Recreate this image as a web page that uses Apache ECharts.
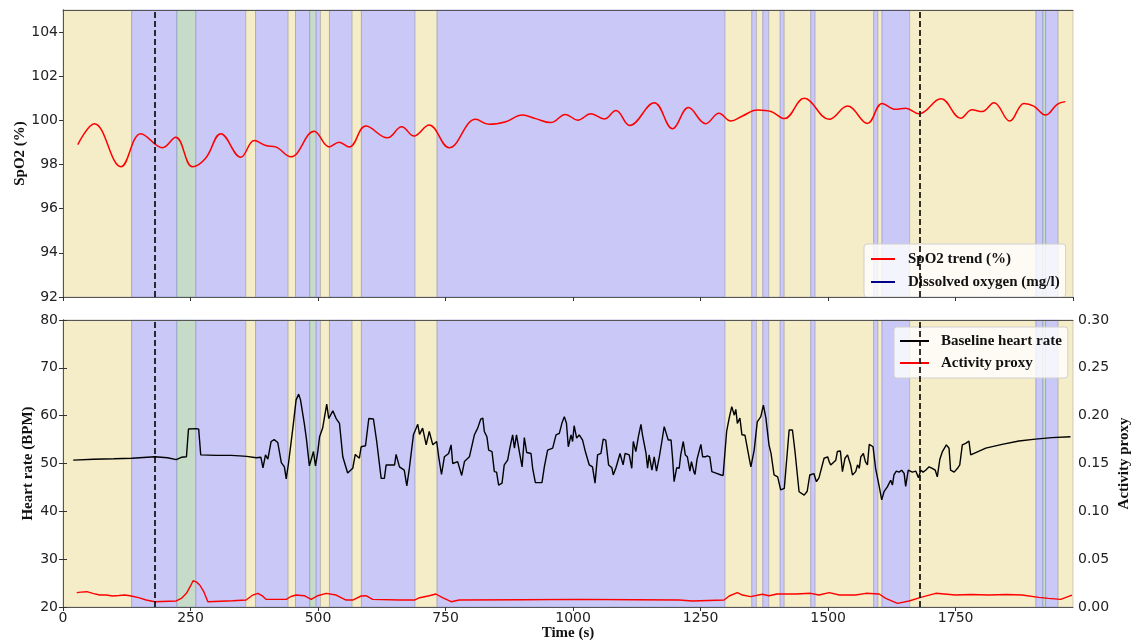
<!DOCTYPE html>
<html>
<head>
<meta charset="utf-8">
<script src="https://cdn.jsdelivr.net/npm/echarts@6/dist/echarts.min.js"></script>
<style>html,body{margin:0;padding:0;background:#fff;}#c{width:1131px;height:643px;}</style>
</head>
<body>
<div id="c"></div>
<script>
// ---------- data ----------
const spo2Time = [29,61.5,113.6,152.8,195,221,254,280,309.5,348.7,375,397.7,417,446.6,492.4,521.8,541.4,561,593.6,636,664,688,717.7,757,809,835,868,900.5,926.6,956,985,1009,1035,1061,1084,1111,1159,1195,1226,1260,1286,1309,1332,1361,1388,1414,1453,1502,1538,1577,1606,1632,1652,1678,1721,1760,1782,1802,1825,1856,1884,1903,1926,1949,1965];
const spo2Values = [98.9,99.85,97.9,99.4,98.76,99.24,97.9,98.3,99.4,98.33,99.09,98.86,98.8,98.35,99.51,98.8,99.01,98.79,99.74,99.21,99.71,99.29,99.79,98.76,100.05,99.82,99.94,100.24,100.08,99.9,100.27,100.01,100.3,100.06,100.45,99.77,100.8,99.62,100.58,99.85,100.32,99.97,100.2,100.47,100.4,100.08,101.0,100.05,100.65,99.86,100.77,100.5,100.55,100.3,100.98,100.1,100.48,100.4,100.8,99.97,100.77,100.65,100.24,100.73,100.85];

const hrTime = [20,60,100,135,180,205,222,232,242,246,262,266,270,300,330,346,360,379,388,392,397,401.6,408,414,421,428,434,437.6,442,450.6,457,462,465.6,473,477,483,491,495,499.5,503,509,517,521,529,535.5,542,548.5,558,568,573,581,584.5,593,599.5,608.6,615,623.7,630,633.5,650,653,659.6,669,674,679,687,695.5,699,705,712,718,725,732.6,736.5,742,747.7,756,760.8,764,773.7,781.6,787,796.7,806.5,813,819,823,826,831,834.5,841,845.6,850,854,860.7,865,871.7,876,881.5,885,889,894.6,900,904.4,909,917.5,920.7,926,939,943.6,950,960,966.5,973,978,982.8,987,990.6,996,999,1002,1007,1012,1018.6,1024,1031.7,1038,1043,1048,1054.6,1059,1064,1069.6,1076,1078.7,1084,1087,1092,1098,1102,1110,1115,1118,1123,1128,1133,1136,1143,1146,1149,1154.5,1159,1163.5,1169,1174,1178.6,1181,1186.5,1192,1195,1198,1203,1208,1211,1216,1220,1224,1229,1232,1237,1239,1243,1250.5,1254,1259,1263,1268,1272,1280,1290,1294,1297,1301,1306,1311,1316,1319,1322,1327,1331,1337,1344,1348.5,1355,1361,1368,1373,1378,1384,1388,1394,1401,1407,1414,1417,1423.5,1430,1435,1443,1453,1459,1464,1472,1477,1482,1492,1499,1502,1505,1508,1515,1518,1524,1528,1533,1538,1544,1547.6,1554,1557.6,1561,1564,1569,1573,1577,1580.6,1588,1593,1599.6,1605,1609.5,1616,1622.6,1626,1629,1633.7,1639,1644,1649,1652,1657,1665,1672,1677,1681.6,1686,1691,1698,1704,1710,1714,1719,1724,1731.7,1737,1740,1747,1753.6,1758,1763,1769.6,1776,1779.5,1809,1841,1874,1906,1939,1975];
const hrValues = [50.7,50.9,51.0,51.1,51.4,51.2,50.8,51.3,51.4,57.2,57.3,57.2,51.8,51.7,51.7,51.6,51.5,51.2,51.3,49.1,51.8,50.9,54.6,55.0,54.4,50.2,49.3,46.8,50,57.4,63.3,64.5,63.3,58.4,55.3,49.5,52.5,49.5,52.5,55.6,57.4,62.4,59.4,61,59.4,58.4,51.4,48,49,51.9,51.1,53.5,53.7,59.4,59.3,54.6,46.9,46.9,49.7,49.7,51.9,49.3,48.6,45.3,49,56,58.2,56.1,57.4,53.9,56.7,53.9,54.6,51.4,47.7,51.4,52.1,53.9,50,50.4,47.5,50.4,51.4,56,57.4,59.3,59.5,56.7,55.6,52.8,52.5,48.3,48.2,45.5,45.9,49.7,50.7,53.2,56,53.2,56,52.5,49.3,55.4,52.3,52.1,49,46,46,49.3,52.8,53.2,56,56.3,58.4,59.8,58.4,53.5,56,54.6,57.9,55.3,56,54.9,52.5,49.7,49.3,45.9,51.8,52.1,55.1,54.9,49.7,49.1,47.6,49.1,49.3,52.1,49.7,52.1,51.8,49,54.6,52.5,55.6,58.2,56,52.1,49,51.8,48.6,51.4,48.4,51.4,54.6,57.7,57.7,54.9,54.9,51.1,46.2,49.1,49,51.8,54.6,51.8,51.4,48.4,50.4,48.2,47.7,50.9,54,51.4,51.4,51.6,51.4,48.3,48,47.6,47.5,51.4,56.7,59.5,61.9,60.1,61.3,58.4,59.5,56,55.9,51.8,49.3,52.8,58.7,59.8,62.2,59.5,53.9,52.1,47.6,47.2,44.5,44.8,48.6,57,57,52.5,44.1,43.4,44.2,47.6,47.9,46.2,47,51.1,51.4,50.4,49.7,49.3,50.7,52.5,52.6,48.3,51.1,51.8,49.7,47.6,48.3,49.7,49,51.4,52.1,50.4,49.7,54,53.5,49,45.5,42.4,44.1,45.1,46.5,45.5,47.6,48.4,48.2,48.6,47.9,45.2,48.6,48.2,48.4,47,48.6,48.2,48.6,49.3,49,48.6,47.2,50.9,52.5,53.9,53.2,48.6,48.2,49,49.7,53.9,54.2,54.7,51.8,53.2,54,54.7,55.1,55.4,55.6];

const actTime = [27,35,47,60,72,85,97,110,121,134,150,163,180,222,232,242,250,255,262,268,276,284,333,359,372,382,390,398,437.6,447,457,473,486.6,499.5,516,535.5,555,568,584.5,594,607,660,689,699,718,731,744,761,777,900,1012,1120,1208,1234,1296,1306,1322,1332,1348,1371,1384,1400,1410,1436,1466,1482,1502,1522,1554,1574,1600,1613,1636,1658.6,1681.6,1711,1750,1780,1815,1850,1880,1913,1932,1956,1978];
const actValues = [0.015,0.0155,0.016,0.014,0.0125,0.0125,0.0115,0.012,0.0125,0.0115,0.0095,0.0073,0.0055,0.0063,0.009,0.0143,0.022,0.0275,0.026,0.023,0.016,0.0055,0.0066,0.0073,0.0125,0.0143,0.012,0.008,0.008,0.011,0.0125,0.0118,0.008,0.0118,0.0143,0.0125,0.0073,0.0073,0.0115,0.0118,0.008,0.0073,0.0073,0.0097,0.0118,0.0136,0.0097,0.0055,0.0073,0.0076,0.008,0.0076,0.0073,0.0063,0.0073,0.0115,0.015,0.0125,0.0108,0.0133,0.0118,0.0136,0.0136,0.0136,0.0143,0.0125,0.015,0.0125,0.0125,0.0143,0.0136,0.009,0.0038,0.0063,0.0101,0.0143,0.0125,0.013,0.0125,0.013,0.0125,0.0101,0.009,0.008,0.0125];

const bandEdges = [0,134.6,223.3,260.5,358.5,377.5,441.5,455.8,483.9,496.4,504.8,522.4,566.9,585,690.3,733.4,1298,1350.4,1359.5,1372,1383.7,1406,1414,1466,1474.6,1589.3,1597.8,1605.6,1659.8,1907.4,1921,1926.4,1951,1980];
const bandStates = ['y','b','g','b','y','b','y','b','g','b','y','b','y','b','y','b','y','b','y','b','y','b','y','b','y','b','y','b','y','b','g','b','y'];
const markerTimes = [180, 1680];

const xMin = 0, xMax = 1980, xStep = 250;
const spo2Min = 92, spo2Max = 105, spo2Step = 2;
const hrMin = 20, hrMax = 80, hrStep = 10;
const actMin = 0, actMax = 0.30, actStep = 0.05;

// ---------- styling ----------
const bandColors = {y: '#F5ECC8', b: '#C9C8F6', g: '#C7DCC8'};
const bandBorders = {y: 'rgba(175,170,150,0.55)', b: 'rgba(140,140,210,0.55)', g: 'rgba(120,150,170,0.55)'};
const serif = '"Liberation Serif","DejaVu Serif",serif';
const sans = '"DejaVu Sans",sans-serif';
const frameColor = '#555';

const bandAreas = bandStates.map((s, i) => [
  {xAxis: bandEdges[i], itemStyle: {color: bandColors[s], borderColor: bandBorders[s], borderWidth: 1}},
  {xAxis: bandEdges[i + 1]}
]);
const markerLines = markerTimes.map(t => ({xAxis: t}));

function pairs(xs, ys) { return xs.map((x, i) => [x, ys[i]]); }

function xAxisBase(grid, showLabels, name) {
  return {
    type: 'value', gridIndex: grid, min: xMin, max: xMax, interval: xStep, position: 'bottom', z: 10,
    axisLine: {show: true, onZero: false, lineStyle: {color: frameColor, width: 1}},
    axisTick: {show: true, length: 4, lineStyle: {color: '#333'}},
    axisLabel: {show: showLabels, fontFamily: sans, fontSize: 14, color: '#222', margin: 4, showMaxLabel: false,
                formatter: v => String(v)},
    splitLine: {show: false},
    name: name || '', nameLocation: 'middle', nameGap: 19, nameMoveOverlap: false,
    nameTextStyle: {fontFamily: serif, fontWeight: 'bold', fontSize: 15, color: '#111'}
  };
}
function frameX(grid) {
  return {type: 'value', gridIndex: grid, min: xMin, max: xMax, position: 'top', z: 10,
    axisLine: {show: true, onZero: false, lineStyle: {color: frameColor, width: 1}},
    axisTick: {show: false}, axisLabel: {show: false}, splitLine: {show: false}};
}

const option = {
  animation: false,
  backgroundColor: '#fff',
  grid: [
    {left: 63, right: 58, top: 10, height: 287, containLabel: false, outerBoundsMode: 'none'},
    {left: 63, right: 58, top: 320, height: 287, containLabel: false, outerBoundsMode: 'none'}
  ],
  xAxis: [xAxisBase(0, false), frameX(0), xAxisBase(1, true, 'Time (s)'), frameX(1)],
  yAxis: [
    {type: 'value', gridIndex: 0, min: spo2Min, max: spo2Max, interval: spo2Step, position: 'left', z: 10,
     axisLine: {show: true, lineStyle: {color: frameColor}}, axisTick: {show: true, length: 4, lineStyle: {color: '#333'}},
     axisLabel: {fontFamily: sans, fontSize: 14, color: '#222', margin: 5, showMaxLabel: false}, splitLine: {show: false},
     name: 'SpO2 (%)', nameLocation: 'middle', nameRotate: 90, nameGap: 35, nameMoveOverlap: false,
     nameTextStyle: {fontFamily: serif, fontWeight: 'bold', fontSize: 15, color: '#111'}},
    {type: 'value', gridIndex: 0, min: spo2Min, max: spo2Max, position: 'right', z: 10,
     axisLine: {show: true, lineStyle: {color: frameColor}}, axisTick: {show: false}, axisLabel: {show: false}, splitLine: {show: false}},
    {type: 'value', gridIndex: 1, min: hrMin, max: hrMax, interval: hrStep, position: 'left', z: 10,
     axisLine: {show: true, lineStyle: {color: frameColor}}, axisTick: {show: true, length: 4, lineStyle: {color: '#333'}},
     axisLabel: {fontFamily: sans, fontSize: 14, color: '#222', margin: 5}, splitLine: {show: false},
     name: 'Heart rate (BPM)', nameLocation: 'middle', nameRotate: 90, nameGap: 27, nameMoveOverlap: false,
     nameTextStyle: {fontFamily: serif, fontWeight: 'bold', fontSize: 15, color: '#111'}},
    {type: 'value', gridIndex: 1, min: actMin, max: actMax, interval: actStep, position: 'right', z: 10,
     axisLine: {show: true, lineStyle: {color: frameColor}}, axisTick: {show: true, length: 4, lineStyle: {color: '#333'}},
     axisLabel: {fontFamily: sans, fontSize: 14, color: '#222', margin: 5, formatter: v => v.toFixed(2)}, splitLine: {show: false},
     name: 'Activity proxy', nameLocation: 'middle', nameRotate: 90, nameGap: 44, nameMoveOverlap: false,
     nameTextStyle: {fontFamily: serif, fontWeight: 'bold', fontSize: 15, color: '#111'}}
  ],
  legend: [
    {data: ['SpO2 trend (%)', 'Dissolved oxygen (mg/l)'], orient: 'vertical', left: 864, top: 244,
     icon: 'rect', itemWidth: 24, itemHeight: 2, itemGap: 5, padding: [6, 6, 6, 7],
     backgroundColor: 'rgba(255,255,255,0.8)', borderColor: '#d0d0d0', borderWidth: 1, borderRadius: 3,
     textStyle: {fontFamily: serif, fontWeight: 'bold', fontSize: 15, color: '#111', lineHeight: 18, padding: [0, 0, 0, 8]}},
    {data: ['Baseline heart rate', 'Activity proxy'], orient: 'vertical', left: 894, top: 327,
     icon: 'rect', itemWidth: 29, itemHeight: 2, itemGap: 4, padding: [5, 6, 6, 6],
     backgroundColor: 'rgba(255,255,255,0.8)', borderColor: '#d0d0d0', borderWidth: 1, borderRadius: 3,
     textStyle: {fontFamily: serif, fontWeight: 'bold', fontSize: 15, color: '#111', lineHeight: 18, padding: [0, 0, 0, 7]}}
  ],
  series: [
    {name: 'bandsTop', type: 'line', xAxisIndex: 0, yAxisIndex: 0, data: [], z: 1, silent: true,
     markArea: {silent: true, data: bandAreas}},
    {name: 'bandsBottom', type: 'line', xAxisIndex: 2, yAxisIndex: 2, data: [], z: 1, silent: true,
     markArea: {silent: true, data: bandAreas}},
    {name: 'markTop', type: 'line', xAxisIndex: 0, yAxisIndex: 0, data: [], z: 5, silent: true,
     markLine: {silent: true, symbol: 'none', label: {show: false},
       lineStyle: {color: '#000', type: [6, 3], width: 1.6}, data: markerLines}},
    {name: 'markBottom', type: 'line', xAxisIndex: 2, yAxisIndex: 2, data: [], z: 5, silent: true,
     markLine: {silent: true, symbol: 'none', label: {show: false},
       lineStyle: {color: '#000', type: [6, 3], width: 1.6}, data: markerLines}},
    {name: 'SpO2 trend (%)', type: 'line', xAxisIndex: 0, yAxisIndex: 0, data: pairs(spo2Time, spo2Values),
     smooth: 0.4, showSymbol: false, z: 3, color: '#ff0000', lineStyle: {color: '#ff0000', width: 1.5}},
    {name: 'Dissolved oxygen (mg/l)', type: 'line', xAxisIndex: 0, yAxisIndex: 0, data: [],
     showSymbol: false, color: '#00008b', lineStyle: {color: '#00008b', width: 1.5}},
    {name: 'Baseline heart rate', type: 'line', xAxisIndex: 2, yAxisIndex: 2, data: pairs(hrTime, hrValues),
     showSymbol: false, z: 3, color: '#000', lineStyle: {color: '#000', width: 1.4}},
    {name: 'Activity proxy', type: 'line', xAxisIndex: 2, yAxisIndex: 3, data: pairs(actTime, actValues),
     showSymbol: false, z: 3, color: '#ff0000', lineStyle: {color: '#ff0000', width: 1.4}}
  ]
};
const chart = echarts.init(document.getElementById('c'), null, {renderer: 'canvas'});
chart.setOption(option);
</script>
</body>
</html>
